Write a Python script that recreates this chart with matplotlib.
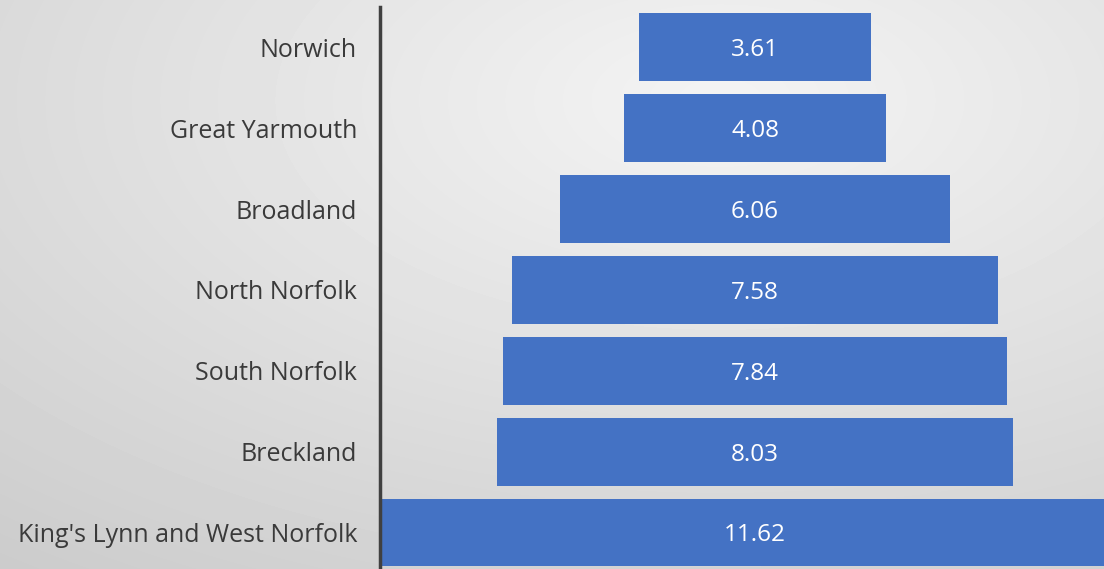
import numpy as np
import matplotlib
matplotlib.use("Agg")
import matplotlib.pyplot as plt

districts = ["Norwich", "Great Yarmouth", "Broadland", "North Norfolk",
             "South Norfolk", "Breckland", "King's Lynn and West Norfolk"]
values = [3.61, 4.08, 6.06, 7.58, 7.84, 8.03, 11.62]

plt.rcParams['font.family'] = ['Open Sans', 'DejaVu Sans']

W, H = 1104, 569
fig = plt.figure(figsize=(W / 100, H / 100), dpi=100)

# radial grey background
bg = fig.add_axes([0, 0, 1, 1], zorder=0)
yy, xx = np.mgrid[0:H, 0:W]
r = np.sqrt(((xx - 720) / W) ** 2 + ((yy - 100) / H) ** 2)
shade = np.clip(0.955 - 0.15 * r, 0, 1)
bg.imshow(shade, cmap='gray', vmin=0, vmax=1, aspect='auto', extent=[0, W, H, 0])
bg.axis('off')

# funnel axes
px = 64.2  # pixels per unit
left_px, center_px = 380, 755
ax = fig.add_axes([left_px / W, 0, (W - left_px) / W, (H - 7) / H], zorder=1)
ax.patch.set_alpha(0)
ax.set_xlim(-(center_px - left_px) / px, (W - center_px) / px)
ax.set_ylim(6.452, -0.5)

y = np.arange(len(districts))
v = np.array(values)
ax.barh(y, v, left=-v / 2, height=0.84, color='#4472C4')
for yi, val in zip(y, values):
    ax.text(0, yi, f"{val:.2f}", ha='center', va='center_baseline', color='white', fontsize=17.5)

ax.set_yticks(y)
ax.set_yticklabels(districts, fontsize=18, color='#3a3a3a', va='center_baseline')
ax.tick_params(axis='y', length=0, pad=16.5)
ax.set_xticks([])
for s in ['top', 'right', 'bottom']:
    ax.spines[s].set_visible(False)
ax.spines['left'].set_color('#404040')
ax.spines['left'].set_linewidth(2.5)

fig.savefig("out.png", dpi=100)
